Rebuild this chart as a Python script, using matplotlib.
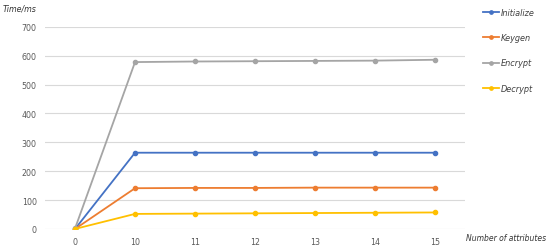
import matplotlib.pyplot as plt

# attribute counts on the x axis (categorical)
attrs = ['0', '10', '11', '12', '13', '14', '15']

# timings in ms
initialize = [0, 264, 264, 264, 264, 264, 264]
keygen = [0, 141, 142, 142, 143, 143, 143]
encrypt = [2, 578, 580, 581, 582, 583, 586]
decrypt = [0, 52, 53, 54, 55, 56, 57]

series = [('Initialize', initialize, '#4472C4'),
          ('Keygen', keygen, '#ED7D31'),
          ('Encrypt', encrypt, '#A5A5A5'),
          ('Decrypt', decrypt, '#FFC000')]

fig = plt.figure(figsize=(5.5, 2.51), dpi=100)
ax = fig.add_axes([0.082, 0.084, 0.763, 0.805])

x = range(len(attrs))
for name, vals, col in series:
    ax.plot(x, vals, color=col, lw=1.3, marker='o', ms=3, label=name)

ax.set_xlim(-0.5, len(attrs) - 0.5)
ax.set_ylim(0, 700)
ax.set_yticks(range(0, 701, 100))
ax.set_xticks(list(x))
ax.set_xticklabels(attrs)
ax.grid(axis='y', color='#D9D9D9', lw=0.8)
ax.set_axisbelow(True)
for s in ax.spines.values():
    s.set_visible(False)
ax.tick_params(length=0, labelsize=5.7, colors='#595959', pad=6)

fig.text(0.005, 0.965, 'Time/ms', fontsize=5.7, style='italic', color='#333333', va='center')
fig.text(0.847, 0.05, 'Number of attributes', fontsize=5.5, style='italic', color='#333333', va='center')

leg = fig.legend(loc='upper left', bbox_to_anchor=(0.865, 0.995), frameon=False,
                 fontsize=5.9, labelspacing=2.0, handlelength=1.9, handletextpad=0.2,
                 markerscale=0.8)
for t in leg.get_texts():
    t.set_style('italic')
    t.set_color('#404040')

fig.savefig('out.png', dpi=100)
